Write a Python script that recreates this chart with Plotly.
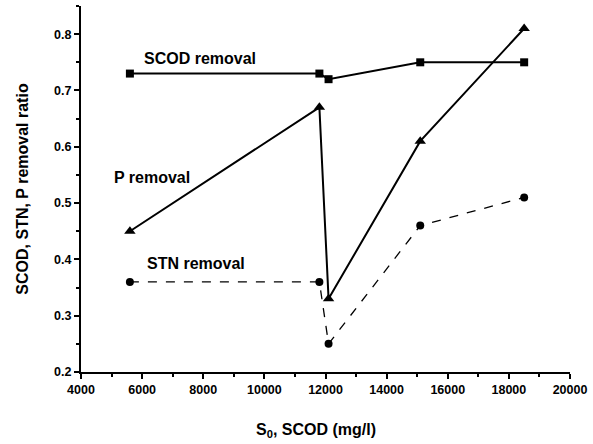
import plotly.graph_objects as go

x_vals = [5600, 11800, 12100, 15100, 18500]
scod_removal = [0.73, 0.73, 0.72, 0.75, 0.75]
p_removal = [0.45, 0.67, 0.33, 0.61, 0.81]
stn_removal = [0.36, 0.36, 0.25, 0.46, 0.51]

x_ticks = [4000, 6000, 8000, 10000, 12000, 14000, 16000, 18000, 20000]
y_ticks = [0.2, 0.3, 0.4, 0.5, 0.6, 0.7, 0.8]

fig = go.Figure()
fig.add_trace(go.Scatter(x=x_vals, y=scod_removal, mode="lines+markers",
                         line=dict(color="black", width=2),
                         marker=dict(symbol="square", size=8, color="black")))
fig.add_trace(go.Scatter(x=x_vals, y=p_removal, mode="lines+markers",
                         line=dict(color="black", width=2),
                         marker=dict(symbol="triangle-up", size=10, color="black")))
fig.add_trace(go.Scatter(x=x_vals, y=stn_removal, mode="lines+markers",
                         line=dict(color="black", width=1.3, dash="dash"),
                         marker=dict(symbol="circle", size=8, color="black")))

font_family = "Liberation Sans, Arial, sans-serif"
lab_font = dict(size=16, family=font_family, color="black")
fig.add_annotation(x=5980, y=0.756, text="<b>SCOD removal</b>", showarrow=False,
                   xanchor="left", yanchor="middle", font=lab_font)
fig.add_annotation(x=5030, y=0.546, text="<b>P removal</b>", showarrow=False,
                   xanchor="left", yanchor="middle", font=lab_font)
fig.add_annotation(x=6080, y=0.393, text="<b>STN removal</b>", showarrow=False,
                   xanchor="left", yanchor="middle", font=lab_font)
fig.add_annotation(x=0.48, y=-0.16, xref="paper", yref="paper",
                   text="<b>S<sub>0</sub>, SCOD (mg/l)</b>", showarrow=False,
                   xanchor="center", yanchor="middle", font=dict(size=16, family=font_family, color="black"))

fig.update_layout(
    width=593, height=444,
    margin=dict(l=81, r=20, t=6, b=72),
    paper_bgcolor="white", plot_bgcolor="white",
    showlegend=False,
    font=dict(family=font_family, color="black"),
    xaxis=dict(range=[4000, 20000], tickvals=x_ticks, ticktext=[f"<b>{v}</b>" for v in x_ticks],
               showgrid=False, zeroline=False, showline=True, linecolor="black", linewidth=2,
               ticks="outside", ticklen=5, tickwidth=2, tickcolor="black",
               tickfont=dict(size=12.5, family=font_family),
               minor=dict(ticks="outside", ticklen=3, tickwidth=1.5, dtick=1000, tick0=5000, tickcolor="black")),
    yaxis=dict(range=[0.2, 0.85], tickvals=y_ticks, ticktext=[f"<b>{v:.1f}</b>" for v in y_ticks],
               showgrid=False, zeroline=False, showline=True, linecolor="black", linewidth=2,
               ticks="outside", ticklen=5, tickwidth=2, tickcolor="black",
               tickfont=dict(size=12.5, family=font_family),
               minor=dict(ticks="outside", ticklen=3, tickwidth=1.5, dtick=0.05, tick0=0.25, tickcolor="black"),
               title=dict(text="<b>SCOD, STN, P removal ratio</b>", font=dict(size=16, family=font_family), standoff=22)),
)

fig.write_html("out.html")
